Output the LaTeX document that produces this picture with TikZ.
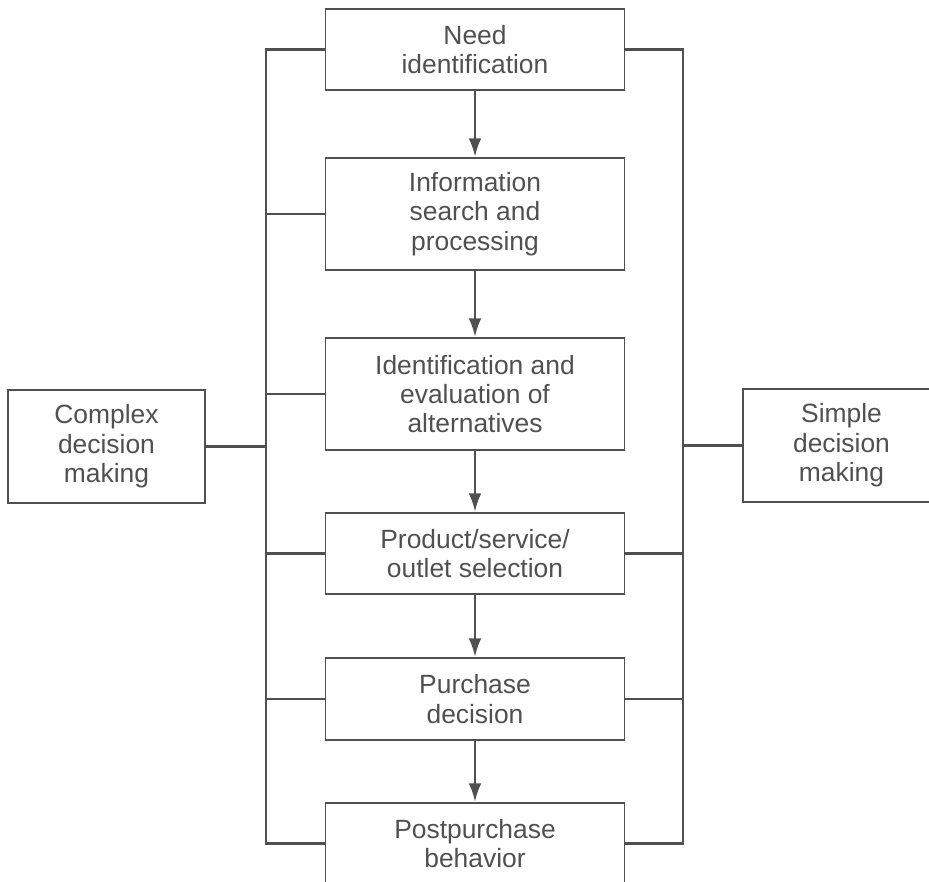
\documentclass[tikz,border=0pt]{standalone}
\usepackage{fontspec}
\setmainfont{Liberation Sans}
\usetikzlibrary{arrows.meta}
\definecolor{ink}{HTML}{505050}
\begin{document}
\begin{tikzpicture}[x=0.75pt,y=-0.75pt,>={Latex[length=14pt,width=9.5pt]},
    stage/.style={draw=ink,line width=1.3pt,text=ink,align=center,inner sep=0pt,
        minimum width=224.25pt,font=\fontsize{19.8}{22}\selectfont},
    side/.style={stage,minimum width=147.75pt,minimum height=84.75pt},
    bus/.style={draw=ink,line width=2.2pt},
    flow/.style={->,draw=ink,fill=ink,line width=2.2pt}]
    \useasboundingbox (0,0) rectangle (929,882);
    \clip (0,0) rectangle (929,882);
    \node[stage,minimum height=60.75pt](need) at (475,49.5){Need\\identification};
    \node[stage,minimum height=84pt](info) at (475,214){Information\\search and\\processing};
    \node[stage,minimum height=84pt](ident) at (475,394){Identification and\\evaluation of\\alternatives};
    \node[stage,minimum height=60.75pt](prod) at (475,553.5){Product/service/\\outlet selection};
    \node[stage,minimum height=61.5pt](purch) at (475,699){Purchase\\decision};
    \node[stage,minimum height=60.75pt](post) at (475,843.5){Postpurchase\\behavior};
    \node[side](complex) at (106.5,446.5){Complex\\decision\\making};
    \node[side](simple) at (841.5,445.5){Simple\\decision\\making};
    \coordinate (lbus) at (266,0);
    \coordinate (rbus) at (683,0);
    \draw[bus](need.west)--(need.west-|lbus)--(post.west-|lbus)--(post.west);
    \draw[bus](need.east)--(need.east-|rbus)--(post.east-|rbus)--(post.east);
\foreach \n in {info,ident,prod,purch}
{
    \draw[bus](\n.west)--(\n.west-|lbus);
}
\foreach \n in {prod,purch}
{
    \draw[bus](\n.east)--(\n.east-|rbus);
}
    \draw[bus](complex.east)--(complex.east-|lbus);
    \draw[bus](simple.west)--(simple.west-|rbus);
\foreach \a/\b in {need/info,info/ident,ident/prod,prod/purch,purch/post}
{
    \draw[flow](\a)--(\b);
}
\end{tikzpicture}
\end{document}
